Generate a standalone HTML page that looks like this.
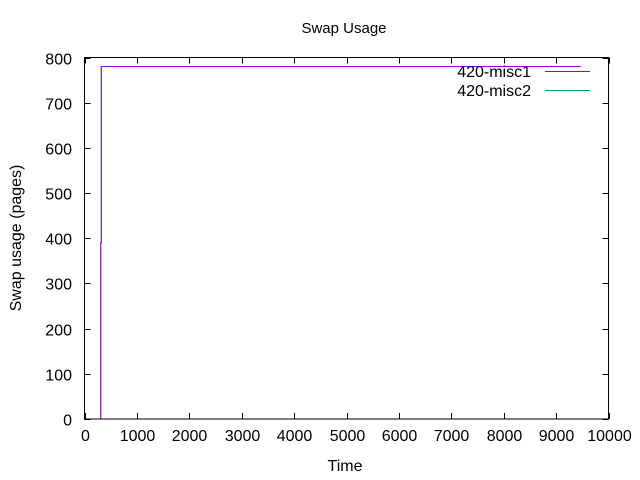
<!DOCTYPE html>
<html><head><meta charset="utf-8"><style>
body{margin:0;background:#fff}
svg{display:block;font-family:"Liberation Sans",sans-serif;font-size:16px}
</style></head><body>
<svg id="c" width="640" height="480">
<rect width="640" height="480" fill="#fff"/>
<text x="344" y="33" text-anchor="middle" font-size="15">Swap Usage</text>
<text x="345" y="471" text-anchor="middle">Time</text>
<text transform="translate(21,238) rotate(-90)" text-anchor="middle">Swap usage (pages)</text>
<g id="ticks"></g>
<g id="series"></g>
<rect x="84.5" y="57.5" width="524" height="361.5" fill="none" stroke="#000"/>
<g>
<text x="531" y="77" text-anchor="end">420-misc1</text>
<line x1="545" y1="71.5" x2="590" y2="71.5" stroke="#9400d3"/>
<text x="531" y="96" text-anchor="end">420-misc2</text>
<line x1="545" y1="90.5" x2="590" y2="90.5" stroke="#009e73"/>
</g>
</svg>
<script>
const xTicks=[0,1000,2000,3000,4000,5000,6000,7000,8000,9000,10000];
const yTicks=[0,100,200,300,400,500,600,700,800];
const misc1X=[310,310,320,320,9470];
const misc1Y=[0,390,390,780,780];
const misc2X=[310,310,320,320,9470];
const misc2Y=[0,390,390,780,780];
const X0=84.5,X1=608.5,Y0=419,Y1=57.5;
const sx=v=>X0+(v-0)/(10000)*(X1-X0);
const sy=v=>Y0-(v/800)*(Y0-Y1);
const NS="http://www.w3.org/2000/svg";
const tg=document.getElementById('ticks');
function mk(t,a,p){const e=document.createElementNS(NS,t);for(const k in a)e.setAttribute(k,a[k]);p.appendChild(e);return e;}
xTicks.forEach(v=>{const x=Math.round(sx(v))+0.5;
 const l=mk('path',{d:`M${x} ${Y0}v-6M${x} ${Y1}v6`,stroke:'#000'},tg);
 
 
 const t=mk('text',{x:x,y:441,'text-anchor':'middle'},tg);t.textContent=v;
 
 
});
yTicks.forEach(v=>{const y=Math.round(sy(v))+0.5;
 const l=mk('path',{d:`M${X0} ${y}h6M${X1} ${y}h-6`,stroke:'#000'},tg);
 
 
 const t=mk('text',{x:72,y:y+6,'text-anchor':'end'},tg);t.textContent=v;
 
 
});
const sg=document.getElementById('series');
function line(xs,ys,c,n){let d='';xs.forEach((x,i)=>{d+=(i?'L':'M')+sx(x)+' '+sy(ys[i]);});
 const p=mk('path',{d:d,fill:'none',stroke:c,'stroke-width':1},sg);
 
 }
line(misc2X,misc2Y,'#009e73','line-misc2');
line(misc1X,misc1Y,'#9400d3','line-misc1');
</script>
</body></html>
